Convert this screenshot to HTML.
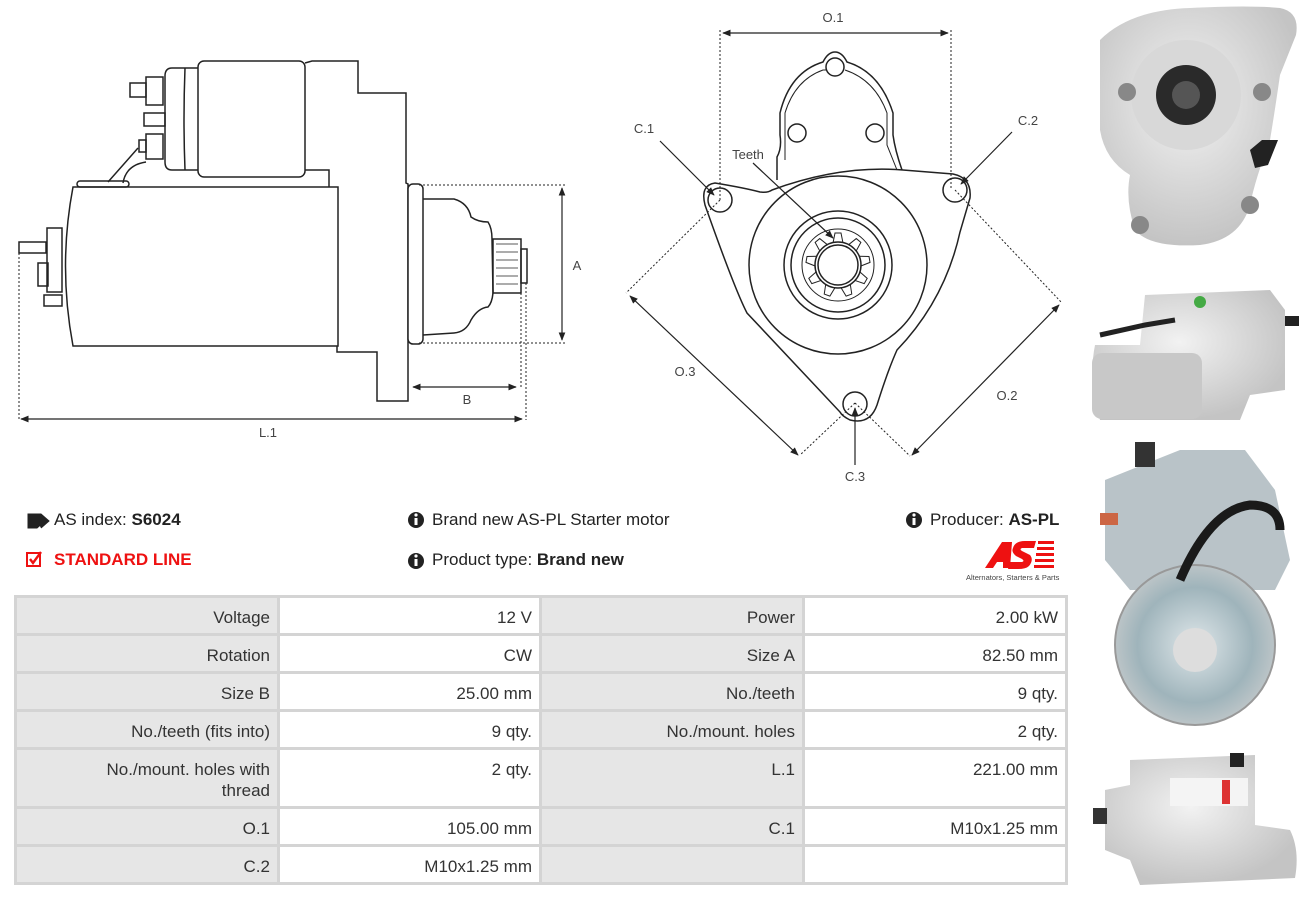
<!DOCTYPE html>
<html><head><meta charset="utf-8"><style>
body{margin:0;width:1309px;height:898px;background:#fff;font-family:"Liberation Sans",sans-serif;color:#222;position:relative;overflow:hidden}
svg{position:absolute;left:0;top:0}
.t{position:absolute;font-size:17px;white-space:nowrap}
table{position:absolute;left:14px;top:595px;border-collapse:collapse;font-size:17px;color:#333;table-layout:fixed;width:1053px}
td{border:3px solid #d4d4d4;padding:0 7px;text-align:right;vertical-align:top;line-height:21px;padding-top:9px;padding-bottom:5px}
td.l{background:#e6e6e6}
</style></head><body>
<svg width="1309" height="898" viewBox="0 0 1309 898">
<defs>
<marker id="ar" viewBox="0 0 10 10" refX="9" refY="5" markerWidth="7" markerHeight="7" orient="auto-start-reverse"><path d="M0,1 L10,5 L0,9 z" fill="#222"/></marker>
<radialGradient id="g1" cx="0.45" cy="0.4" r="0.6"><stop offset="0" stop-color="#f2f2f2"/><stop offset="1" stop-color="#c4c4c4"/></radialGradient>
<radialGradient id="g2" cx="0.5" cy="0.5" r="0.6"><stop offset="0" stop-color="#dfe7ea"/><stop offset="0.6" stop-color="#9fb4bb"/><stop offset="1" stop-color="#d0d0d0"/></radialGradient>
</defs>
<g fill="none" stroke="#222" stroke-width="1.5">
<path d="M73,187 L338,187 L338,346 L73,346 Q58,266 73,187 Z" fill="#fff"/>
<rect x="77" y="181" width="52" height="6" rx="3"/>
<path d="M305,63 L312,61 L358,61 L358,93 L406,93 L406,183 L408,184 L408,401 L377,401 L377,352 L337,352 L337,346"/>
<path d="M329,187 L329,170 L305,170"/>
<rect x="198" y="61" width="107" height="116" rx="6" fill="#fff"/>
<path d="M198,68 L172,68 Q165,68 165,76 L165,162 Q165,170 172,170 L198,170"/>
<path d="M185,68 Q183,120 185,170"/>
<rect x="146" y="77" width="17" height="28"/><rect x="130" y="83" width="16" height="14"/>
<rect x="144" y="113" width="21" height="13"/>
<rect x="146" y="134" width="17" height="25"/><rect x="139" y="140" width="7" height="12"/>
<path d="M108,182 L138,148 M123,183 Q126,165 146,162"/>
<rect x="408" y="184" width="15" height="160" rx="5" fill="#fff"/>
<path d="M423,199 L454,199 Q468,203 471,217 Q478,222 488,222 Q492,228 492,239 L493,293 Q492,303 488,307 Q478,308 471,320 Q466,332 454,333 L423,335"/>
<rect x="493" y="239" width="28" height="54"/><rect x="521" y="249" width="6" height="34"/>
<path d="M496,244 L518,244 M496,252 L518,252 M496,260 L518,260 M496,268 L518,268 M496,276 L518,276 M496,284 L518,284" stroke-width="0.8"/>
<rect x="19" y="242" width="27" height="11"/><rect x="47" y="228" width="15" height="64"/><rect x="38" y="263" width="10" height="23"/><rect x="44" y="295" width="18" height="11"/>
</g>
<g stroke="#222" stroke-width="1" stroke-dasharray="2,2" fill="none">
<path d="M419,185 L567,185 M419,343 L567,343 M521,293 L521,387 M526,283 L526,420 M19,253 L19,420"/>
<path d="M720,30 L720,200 M951,30 L951,190 M720,200 L626,293 M955,190 L1062,303 M855,403 L800,455 M855,403 L910,456"/>
</g>
<g stroke="#222" stroke-width="1.2" fill="none" marker-start="url(#ar)" marker-end="url(#ar)">
<path d="M562,188 L562,340"/><path d="M413,387 L516,387"/><path d="M21,419 L522,419"/>
<path d="M723,33 L948,33"/><path d="M630,296 L798,455"/><path d="M1059,305 L912,455"/>
</g>
<g stroke="#222" stroke-width="1.2" fill="none" marker-end="url(#ar)">
<path d="M660,141 L714,195"/><path d="M1012,132 L961,184"/><path d="M855,465 L855,408"/><path d="M753,163 L833,238"/>
</g>
<g fill="none" stroke="#222" stroke-width="1.5">
<path d="M772,190 Q840,165 903,170 L953,174 Q972,178 970,198 L960,232 Q945,300 897,350 Q888,370 877,405 Q870,425 850,420 Q842,416 840,412 L747,313 Q735,290 705,205 Q700,185 715,183 Q745,188 760,192 Q768,193 772,190 Z"/>
<path d="M777,180 L777,157 Q782,148 780,135 L780,113 Q790,72 823,62 Q828,52 835,52 Q842,52 847,62 Q880,72 893,113 L893,135 Q895,150 902,170"/>
<path d="M785,160 L785,113 Q795,80 823,70 L827,70 M845,70 Q875,80 887,113 L887,145 Q893,160 897,170" stroke-width="1"/>
<circle cx="835" cy="67" r="9"/><circle cx="797" cy="133" r="9"/><circle cx="875" cy="133" r="9"/>
<circle cx="720" cy="200" r="12"/><circle cx="955" cy="190" r="12"/><circle cx="855" cy="404" r="12"/>
<circle cx="838" cy="265" r="89"/><circle cx="838" cy="265" r="54"/><circle cx="838" cy="265" r="47"/>
<circle cx="838" cy="265" r="36" stroke-width="1"/><circle cx="838" cy="265" r="23"/><circle cx="838" cy="265" r="20"/>
<g stroke-width="1"><path d="M833,243 L835,233 L841,233 L843,243" transform="rotate(0 838 265)"/><path d="M833,243 L835,233 L841,233 L843,243" transform="rotate(40 838 265)"/><path d="M833,243 L835,233 L841,233 L843,243" transform="rotate(80 838 265)"/><path d="M833,243 L835,233 L841,233 L843,243" transform="rotate(120 838 265)"/><path d="M833,243 L835,233 L841,233 L843,243" transform="rotate(160 838 265)"/><path d="M833,243 L835,233 L841,233 L843,243" transform="rotate(200 838 265)"/><path d="M833,243 L835,233 L841,233 L843,243" transform="rotate(240 838 265)"/><path d="M833,243 L835,233 L841,233 L843,243" transform="rotate(280 838 265)"/><path d="M833,243 L835,233 L841,233 L843,243" transform="rotate(320 838 265)"/></g>
</g>
<g font-family="Liberation Sans" font-size="13" fill="#444" text-anchor="middle">
<text x="577" y="270">A</text><text x="467" y="404">B</text><text x="268" y="437">L.1</text>
<text x="833" y="22">O.1</text><text x="644" y="133">C.1</text><text x="1028" y="125">C.2</text><text x="748" y="159">Teeth</text>
<text x="685" y="376">O.3</text><text x="1007" y="400">O.2</text><text x="855" y="481">C.3</text>
</g>
<g>
<path d="M1100,40 Q1130,10 1190,8 Q1250,5 1280,8 Q1300,12 1296,35 L1280,75 Q1275,110 1270,140 Q1255,180 1250,205 Q1240,240 1200,245 Q1150,248 1135,230 Q1125,200 1130,175 Q1105,160 1100,130 Z" fill="url(#g1)"/>
<circle cx="1186" cy="95" r="55" fill="#d8d8d8"/><circle cx="1186" cy="95" r="30" fill="#2a2a2a"/><circle cx="1186" cy="95" r="14" fill="#555"/>
<circle cx="1127" cy="92" r="9" fill="#888"/><circle cx="1262" cy="92" r="9" fill="#888"/><circle cx="1140" cy="225" r="9" fill="#888"/><circle cx="1250" cy="205" r="9" fill="#888"/>
<path d="M1250,150 L1262,140 L1278,140 L1268,165 L1255,168 Z" fill="#222"/>
<path d="M1145,295 L1270,290 L1285,310 L1285,390 L1250,395 L1240,420 L1100,420 Q1088,380 1095,345 L1140,345 Z" fill="url(#g1)"/>
<rect x="1092" y="353" width="110" height="66" rx="10" fill="#c8c8c8"/>
<path d="M1100,335 L1145,325 L1175,320" stroke="#222" stroke-width="5" fill="none"/>
<circle cx="1200" cy="302" r="6" fill="#4a4"/><rect x="1285" y="316" width="14" height="10" fill="#222"/>
<path d="M1105,480 L1180,450 L1245,450 L1275,490 L1290,560 L1275,590 L1130,590 L1105,560 Z" fill="#b9c3c8"/>
<circle cx="1195" cy="645" r="80" fill="url(#g2)" stroke="#999" stroke-width="2"/><circle cx="1195" cy="650" r="22" fill="#ddd"/>
<path d="M1180,580 Q1210,510 1250,505 Q1280,505 1280,530" stroke="#1a1a1a" stroke-width="9" fill="none"/>
<rect x="1135" y="442" width="20" height="25" fill="#333"/><rect x="1100" y="513" width="18" height="12" fill="#c64"/>
<path d="M1130,760 L1255,755 L1255,825 L1290,830 Q1300,850 1295,878 L1140,885 L1130,860 L1105,850 L1105,790 L1130,785 Z" fill="url(#g1)"/>
<rect x="1170" y="778" width="78" height="28" fill="#f4f4f4"/><rect x="1222" y="780" width="8" height="24" fill="#d33"/>
<rect x="1230" y="753" width="14" height="14" fill="#222"/><rect x="1093" y="808" width="14" height="16" fill="#333"/>
</g>
<path d="M28,514 L37,514 L45,521 L37,528 L28,528 Z M33,514 L41,514 L49,521 L41,528" fill="#222" stroke="#222" stroke-width="1"/>
<rect x="27" y="553" width="13" height="13" fill="none" stroke="#e11" stroke-width="2"/><path d="M30,559 L33,563 L41,552" fill="none" stroke="#e11" stroke-width="2.4"/>
<g fill="#222"><circle cx="416" cy="520" r="8"/><circle cx="416" cy="561" r="8"/><circle cx="914" cy="520" r="8"/></g>
<g fill="#fff"><rect x="414.5" y="518" width="3" height="7"/><circle cx="416" cy="515" r="1.6"/><rect x="414.5" y="559" width="3" height="7"/><circle cx="416" cy="556" r="1.6"/><rect x="912.5" y="518" width="3" height="7"/><circle cx="914" cy="515" r="1.6"/></g>
<g fill="#e11"><path d="M985,568 L1002,542 L1012,542 L1010,568 L1003,568 L1003,562 L997,562 L993,568 Z"/><path d="M1013,548 Q1015,541 1025,541 L1036,541 L1034,548 L1022,548 Q1019,549 1022,551 L1030,555 Q1034,560 1029,566 Q1026,569 1018,569 L1008,569 L1010,562 L1022,562 Q1025,561 1022,559 L1016,556 Q1011,552 1013,548 Z"/>
<rect x="1038" y="541" width="16" height="3"/><rect x="1037" y="547" width="17" height="3"/><rect x="1036" y="553" width="18" height="3"/><rect x="1035" y="559" width="19" height="3"/><rect x="1034" y="565" width="20" height="3"/></g>
<text x="966" y="580" font-family="Liberation Sans" font-size="7.5" fill="#444">Alternators, Starters &amp; Parts</text>
</svg>
<div class="t" style="left:54px;top:510px">AS index: <b>S6024</b></div>
<div class="t" style="left:54px;top:550px;color:#e11;font-weight:bold">STANDARD LINE</div>
<div class="t" style="left:432px;top:510px">Brand new AS-PL Starter motor</div>
<div class="t" style="left:432px;top:550px">Product type: <b>Brand new</b></div>
<div class="t" style="left:930px;top:510px">Producer: <b>AS-PL</b></div>
<table>
<colgroup><col style="width:263px"><col style="width:262px"><col style="width:263px"><col style="width:263px"></colgroup>
<tr><td class="l">Voltage</td><td>12 V</td><td class="l">Power</td><td>2.00 kW</td></tr>
<tr><td class="l">Rotation</td><td>CW</td><td class="l">Size A</td><td>82.50 mm</td></tr>
<tr><td class="l">Size B</td><td>25.00 mm</td><td class="l">No./teeth</td><td>9 qty.</td></tr>
<tr><td class="l">No./teeth (fits into)</td><td>9 qty.</td><td class="l">No./mount. holes</td><td>2 qty.</td></tr>
<tr><td class="l">No./mount. holes with<br>thread</td><td>2 qty.</td><td class="l">L.1</td><td>221.00 mm</td></tr>
<tr><td class="l">O.1</td><td>105.00 mm</td><td class="l">C.1</td><td>M10x1.25 mm</td></tr>
<tr><td class="l">C.2</td><td>M10x1.25 mm</td><td class="l"></td><td></td></tr>
</table>
</body></html>
